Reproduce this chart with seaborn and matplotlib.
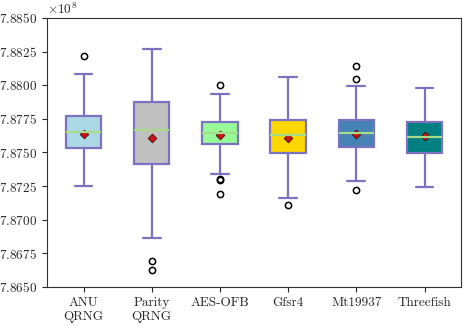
import numpy as np
import pandas as pd
import seaborn as sns
import matplotlib
matplotlib.use("Agg")
import matplotlib.pyplot as plt
from matplotlib.ticker import ScalarFormatter

# box statistics (units of 1e8)
generators = ['ANU\nQRNG', 'Parity\nQRNG', 'AES-OFB', 'Gfsr4', 'Mt19937', 'Threefish']
whisker_low = [7.8725, 7.86864, 7.87338, 7.87162, 7.87288, 7.87246]
q1 = [7.8753, 7.87417, 7.87563, 7.87499, 7.87541, 7.87494]
medians = [7.87655, 7.87667, 7.87643, 7.87633, 7.87647, 7.87613]
q3 = [7.8777, 7.87875, 7.87727, 7.87744, 7.87739, 7.87729]
whisker_high = [7.8808, 7.8827, 7.87932, 7.88064, 7.87992, 7.87977]
means = [7.8764, 7.8761, 7.8763, 7.8761, 7.8764, 7.8762]
outliers = [
    [7.8822],
    [7.86696, 7.86626],
    [7.8800, 7.87305, 7.87296, 7.87189],
    [7.87112],
    [7.88143, 7.88046, 7.87221],
    [],
]
box_colors = ['lightblue', 'silver', 'palegreen', 'gold', 'steelblue', 'teal']
edge_color = '#7b72c0'

# build samples whose quartiles / whiskers give the read statistics
rows = []
for g, lo, a, m, b, hi, outs in zip(generators, whisker_low, q1, medians, q3, whisker_high, outliers):
    vals = [lo, hi] + [a] * 20 + [m] * 20 + [b] * 20 + outs
    for v in vals:
        rows.append({'generator': g, 'value': v * 1e8})
df = pd.DataFrame(rows)
mean_df = pd.DataFrame({'generator': generators, 'value': np.array(means) * 1e8})

sns.set_style('ticks')
plt.rcParams['font.family'] = 'serif'
plt.rcParams['font.serif'] = ['cmr10']
plt.rcParams['mathtext.fontset'] = 'cm'
plt.rcParams['axes.formatter.use_mathtext'] = True
plt.rcParams['font.size'] = 9.5

fig, ax = plt.subplots(figsize=(4.7, 3.26), dpi=100)
sns.boxplot(data=df, x='generator', y='value', hue='generator', palette=box_colors,
            order=generators, width=0.52, linewidth=1.6, linecolor=edge_color,
            saturation=1, legend=False, ax=ax,
            medianprops={'color': '#a8dc8a', 'linewidth': 1.6, 'zorder': 4},
            flierprops={'marker': 'o', 'markersize': 4.5, 'markerfacecolor': 'none',
                        'markeredgecolor': 'black', 'markeredgewidth': 1.1})
sns.scatterplot(data=mean_df, x='generator', y='value', marker='D', s=20,
                color='#c81414', edgecolor='#300000', linewidth=0.5, zorder=3, ax=ax)

ax.set_ylim(7.865e8, 7.885e8)
ax.set_yticks(np.arange(7.865e8, 7.885e8 + 1, 0.0025e8))
fmt = ScalarFormatter(useMathText=True)
fmt.set_useOffset(False)
fmt.set_scientific(True)
fmt.set_powerlimits((0, 0))
ax.yaxis.set_major_formatter(fmt)
ax.set_xlabel('')
ax.set_ylabel('')
for s in ax.spines.values():
    s.set_visible(True)
    s.set_color('#333333')

fig.subplots_adjust(left=0.1, right=0.981, top=0.945, bottom=0.12)
fig.savefig('out.png', dpi=100)
